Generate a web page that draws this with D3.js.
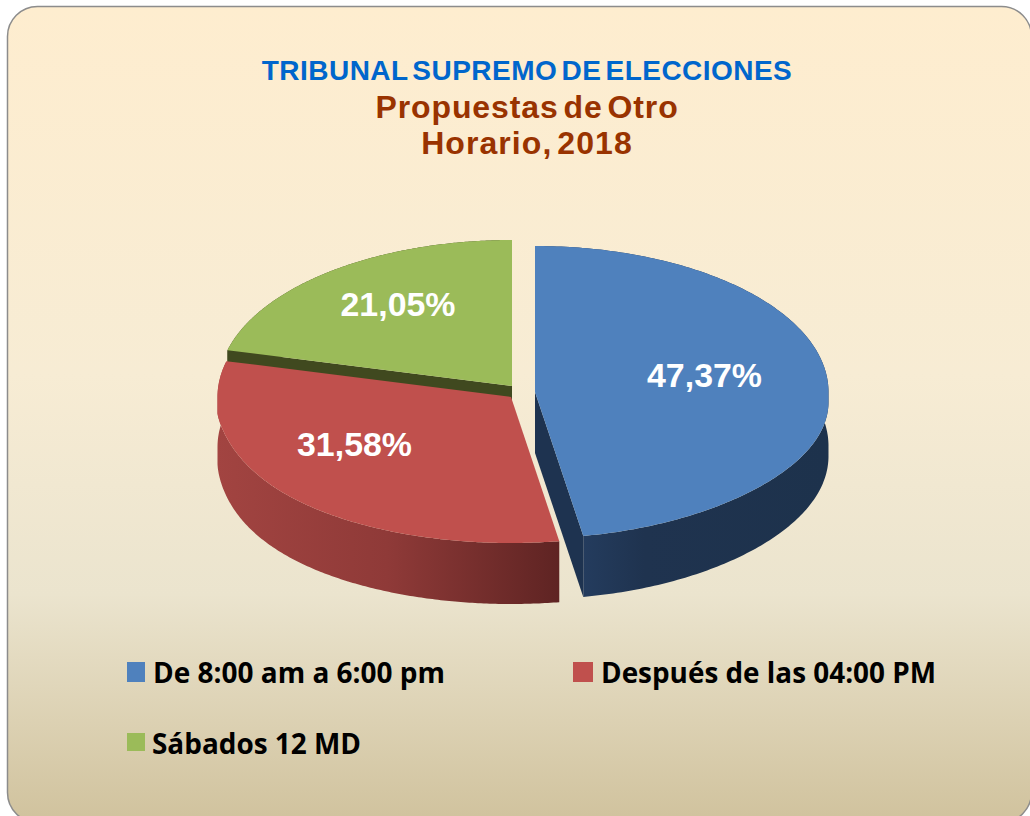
<!DOCTYPE html>
<html><head><meta charset="utf-8">
<script src="https://cdn.jsdelivr.net/npm/d3@7/dist/d3.min.js"></script>
<style>html,body{margin:0;padding:0;background:#fff}svg{display:block}</style>
</head><body><svg id="c" width="1030" height="816"></svg>
<script>
const categories = ["De 8:00 am a 6:00 pm", "Después de las 04:00 PM", "Sábados 12 MD"];
const values = [47.37, 31.58, 21.05];
const topColors = ["#4f81bd", "#c0504d", "#9bbb59"];
const titleLines = ["TRIBUNAL SUPREMO DE ELECCIONES", "Propuestas de Otro", "Horario, 2018"];

// layout: pie drawn as a tilted, slightly perspective-warped disc
const RX = 293.5, RY = 146;
const centers = [{x:535,y:392},{x:511,y:397},{x:512,y:386}];
const rimWarp = [
  c => 10*Math.pow(1-c,1.5) - 9*c*c*(1-c),
  c => 16*Math.pow(1-c,8) + 4*Math.sin(Math.PI*c),
  c => 0
];
const wallDepth = [
  c => 61 - 7*Math.pow(1-c,1.5),
  c => 61 - 11*Math.pow(1-c,6),
  c => 61
];
const labelAt = [{x:704.5,y:386.5},{x:354.5,y:455.5},{x:398,y:316}];
const wallStops = [
  [["0","#243c5e"],["0.25","#1f334f"],["1","#1d324c"]],
  [["0","#a24441"],["0.5","#8f3a38"],["1","#5f2423"]],
  [["0","#40491f"],["1","#40491f"]]
];
const wallExtent = [[583,828],[217,558],[228,512]];

const svg = d3.select("#c");
const defs = svg.append("defs");

const bg = defs.append("linearGradient").attr("id","bg").attr("x1",0).attr("y1",0).attr("x2",0).attr("y2",1);
[[0,"#feedcf"],[0.45,"#f7ecd4"],[0.72,"#ebe4ce"],[1,"#d0c29d"]].forEach(s=>bg.append("stop").attr("offset",s[0]).attr("stop-color",s[1]));
svg.append("rect").attr("x",7.5).attr("y",6.5).attr("width",1024).attr("height",816).attr("rx",30).attr("ry",30)
  .attr("fill","url(#bg)").attr("stroke","#8c8c8c").attr("stroke-width",1.5);

wallStops.forEach((st,i)=>{
  const g = defs.append("linearGradient").attr("id","wall"+i).attr("gradientUnits","userSpaceOnUse")
    .attr("x1",wallExtent[i][0]).attr("y1",0).attr("x2",wallExtent[i][1]).attr("y2",0);
  st.forEach(s=>g.append("stop").attr("offset",s[0]).attr("stop-color",s[1]));
});

const xScale = c => d3.scaleLinear().domain([-1,1]).range([c.x-RX,c.x+RX]);
const yScale = c => d3.scaleLinear().domain([-1,1]).range([c.y-RY,c.y+RY]);
const arcs = d3.pie().sort(null).value(d=>d)(values);
const line = d3.line().x(p=>p[0]).y(p=>p[1]);

function rim(a, c, i){
  const X = xScale(c), Y = yScale(c);
  return d3.range(0,201).map(j=>{
    const t = a.startAngle + (a.endAngle-a.startAngle)*j/200;
    const co = -Math.cos(t);
    const extra = co >= 0 ? rimWarp[i](co) : 0;
    return [X(Math.sin(t)), Y(co)+extra, wallDepth[i](Math.max(co,0))];
  });
}
const drop = pts => pts.map(p=>[p[0],p[1]+p[2]]);

function drawSlice(i){
  const a = arcs[i], c = centers[i], r = rim(a,c,i), apex = [c.x,c.y];
  svg.append("path").attr("d",line(r.concat(drop(r).reverse()))+"Z").attr("fill","url(#wall"+i+")");
  const edge = i===2 ? r[0] : r[r.length-1];
  if (i!==1) svg.append("path").attr("d",line([apex,edge,[edge[0],edge[1]+edge[2]],[apex[0],apex[1]+edge[2]]])+"Z")
    .attr("fill", i===0 ? "#1e3350" : "#40491f");
  svg.append("path").attr("d",line([apex].concat(r))+"Z").attr("fill",topColors[i]);
}
[2,1,0].forEach(drawSlice);

svg.selectAll("text.pct").data(values).join("text").attr("class","pct")
  .attr("x",(d,i)=>labelAt[i].x).attr("y",(d,i)=>labelAt[i].y)
  .attr("text-anchor","middle").attr("fill","#fff")
  .attr("font-family","'Liberation Sans'").attr("font-weight",700).attr("font-size",33)
  .attr("textLength",115).attr("lengthAdjust","spacingAndGlyphs")
  .text(d=>d.toFixed(2).replace(".",",")+"%");

// titles
const titleStyle = [{y:80,s:28,c:"#0066cc",ws:-4,ls:0.47},{y:117.5,s:32,c:"#993300",ws:-5,ls:0.9},{y:154,s:32,c:"#993300",ws:-5,ls:1.07}];
svg.selectAll("text.t").data(titleLines).join("text").attr("class","t")
  .attr("x",527).attr("y",(d,i)=>titleStyle[i].y)
  .attr("text-anchor","middle").attr("font-family","'Liberation Sans'").attr("font-weight",700)
  .attr("font-size",(d,i)=>titleStyle[i].s).attr("fill",(d,i)=>titleStyle[i].c)
  .attr("word-spacing",(d,i)=>titleStyle[i].ws).attr("letter-spacing",(d,i)=>titleStyle[i].ls)
  .text(d=>d);

// legend
const legendAt = [
  {sx:127,sy:662,sw:18,sh:20,tx:153,ty:683,tw:292},
  {sx:573,sy:662,sw:20,sh:20,tx:601,ty:683,tw:335},
  {sx:127,sy:733,sw:18,sh:18,tx:152,ty:753.5,tw:209}
];
categories.forEach((name,i)=>{
  const l = legendAt[i];
  svg.append("rect").attr("x",l.sx).attr("y",l.sy).attr("width",l.sw).attr("height",l.sh).attr("fill",topColors[i]);
  svg.append("text").attr("x",l.tx).attr("y",l.ty).attr("font-family","'Open Sans'").attr("font-weight",700)
    .attr("font-size",29).attr("fill","#000").attr("textLength",l.tw).attr("lengthAdjust","spacingAndGlyphs").text(name);
});
</script></body></html>
